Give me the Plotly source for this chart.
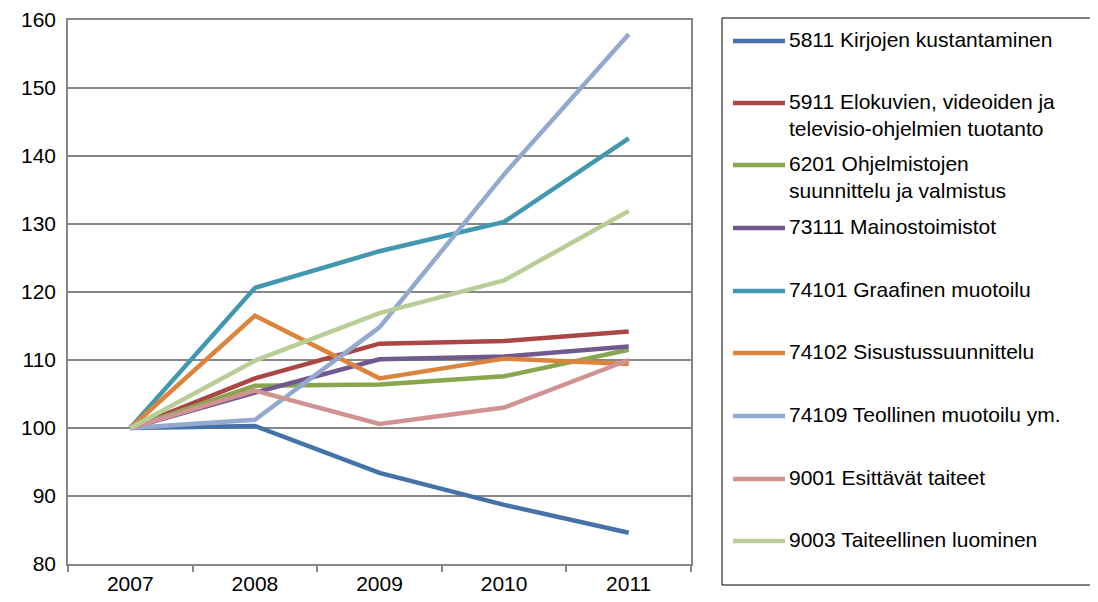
import plotly.graph_objects as go

years = ['2007', '2008', '2009', '2010', '2011']

names = [
    '5811 Kirjojen kustantaminen',
    '5911 Elokuvien, videoiden ja<br>televisio-ohjelmien tuotanto',
    '6201 Ohjelmistojen<br>suunnittelu ja valmistus',
    '73111 Mainostoimistot',
    '74101 Graafinen muotoilu',
    '74102 Sisustussuunnittelu',
    '74109 Teollinen muotoilu ym.',
    '9001 Esittävät taiteet',
    '9003 Taiteellinen luominen',
]

s5811 = [100, 100.3, 93.4, 88.7, 84.6]
s5911 = [100, 107.3, 112.4, 112.8, 114.2]
s6201 = [100, 106.2, 106.4, 107.6, 111.5]
s73111 = [100, 105.2, 110.1, 110.5, 112.0]
s74101 = [100, 120.6, 126.0, 130.3, 142.6]
s74102 = [100, 116.5, 107.3, 110.2, 109.4]
s74109 = [100, 101.2, 114.8, 137.3, 157.9]
s9001 = [100, 105.5, 100.6, 103.0, 110.0]
s9003 = [100, 109.9, 116.9, 121.7, 131.9]

series = [s5811, s5911, s6201, s73111, s74101, s74102, s74109, s9001, s9003]

colors = ['#4572A7', '#AA4643', '#89A54E', '#71588F', '#4198AF',
          '#DB843D', '#93A9CF', '#D19392', '#B9CD96']

FONT = 'Liberation Sans, Arial, sans-serif'
OFF = 8  # page body margin
W, H = 1098 - OFF, 602 - OFF
L, R, T, B = 68 - OFF, 691 - OFF, 20 - OFF, 564 - OFF

fig = go.Figure()
for name, vals, c in zip(names, series, colors):
    fig.add_trace(go.Scatter(x=years, y=vals, mode='lines', name=name.replace('<br>', ' '),
                             line=dict(color=c, width=4.5), showlegend=False))

def px_x(px):
    return (px - OFF - L) / (R - L)

def px_y(py):
    return (B - (py - OFF)) / (B - T)

shapes = []
annotations = []
# legend frame
shapes.append(dict(type='rect', xref='paper', yref='paper',
                   x0=px_x(722), x1=px_x(1095), y0=px_y(585), y1=px_y(18),
                   line=dict(color='#000000', width=1), fillcolor='rgba(0,0,0,0)'))
entry_y = [41, 103, 165, 228, 291, 353, 416, 479, 541]
for name, c, ey in zip(names, colors, entry_y):
    shapes.append(dict(type='line', xref='paper', yref='paper',
                       x0=px_x(733), x1=px_x(785), y0=px_y(ey), y1=px_y(ey),
                       line=dict(color=c, width=4.5)))
    annotations.append(dict(xref='paper', yref='paper', x=px_x(788), y=px_y(ey - 14),
                            xanchor='left', yanchor='top', align='left', showarrow=False,
                            text=name, font=dict(family=FONT, size=21, color='#000000'),
                            borderpad=0))

fig.update_layout(
    width=W, height=H,
    margin=dict(l=L, r=W - R, t=T, b=H - B, pad=0, autoexpand=False),
    paper_bgcolor='white', plot_bgcolor='white',
    font=dict(family=FONT, size=20, color='#000000'),
    shapes=shapes, annotations=annotations,
    showlegend=False,
)
fig.update_xaxes(type='category', range=[-0.5, 4.5], tickson='boundaries', ticks='outside', ticklen=6,
                 tickcolor='#868686', tickwidth=1.5, showgrid=False, automargin=False,
                 showline=True, linecolor='#868686', linewidth=1.5, mirror=True,
                 tickfont=dict(family=FONT, size=21, color='#000000'))
fig.update_yaxes(range=[80, 160], dtick=10, showgrid=True, gridcolor='#868686', gridwidth=1.5,
                 showline=True, linecolor='#868686', linewidth=1.5, mirror=True, automargin=False,
                 ticks='', zeroline=False, ticklabelstandoff=6,
                 tickfont=dict(family=FONT, size=21, color='#000000'))

fig.write_html('out.html')
